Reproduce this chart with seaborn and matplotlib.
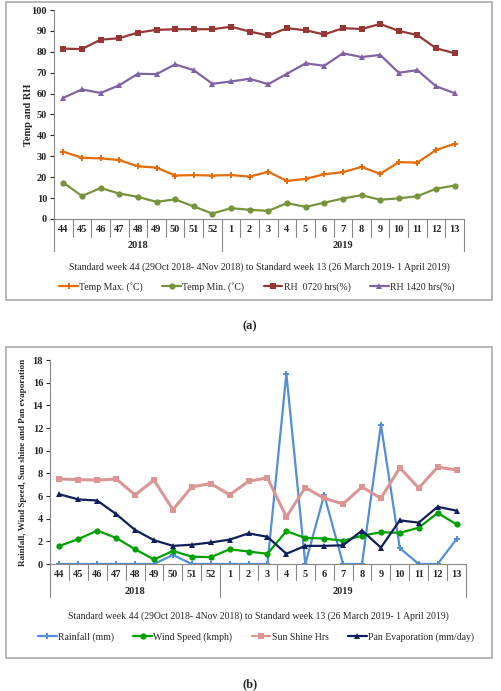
"""Weekly weather parameters, standard week 44 (2018) to week 13 (2019)."""
import matplotlib
matplotlib.use("Agg")
import matplotlib.pyplot as plt
import matplotlib.transforms as mtransforms
from matplotlib.patches import Rectangle
import pandas as pd
import seaborn as sns

weeks = ["44", "45", "46", "47", "48", "49", "50", "51", "52",
         "1", "2", "3", "4", "5", "6", "7", "8", "9", "10", "11", "12", "13"]
years = [("2018", 0, 8), ("2019", 9, 21)]

temp_max = [32.2, 29.3, 29.0, 28.2, 25.2, 24.6, 20.8, 21.0, 20.8, 21.0, 20.3,
            22.6, 18.2, 19.2, 21.4, 22.4, 24.9, 21.6, 27.2, 27.0, 33.0, 36.0]
temp_min = [17.4, 11.0, 14.8, 12.2, 10.6, 8.2, 9.4, 6.0, 2.6, 5.2, 4.4,
            3.9, 7.6, 5.8, 7.8, 9.8, 11.4, 9.2, 9.9, 10.9, 14.5, 16.0]
rh_0720 = [81.5, 81.3, 85.8, 86.5, 89.2, 90.5, 90.8, 90.8, 90.8, 92.0, 89.7,
           87.8, 91.3, 90.3, 88.3, 91.3, 90.9, 93.3, 90.0, 88.0, 81.7, 79.3]
rh_1420 = [58.0, 62.0, 60.3, 64.0, 69.5, 69.3, 74.0, 71.2, 64.7, 65.8, 67.1,
           64.5, 69.5, 74.5, 73.3, 79.3, 77.5, 78.5, 70.0, 71.2, 63.5, 60.2]

rainfall = [0, 0, 0, 0, 0, 0, 0.8, 0, 0, 0, 0,
            0, 16.8, 0, 6.1, 0, 0, 12.3, 1.4, 0, 0, 2.2]
wind = [1.6, 2.2, 2.95, 2.3, 1.3, 0.4, 1.15, 0.65, 0.6, 1.3, 1.1,
        0.9, 2.9, 2.3, 2.25, 2.05, 2.5, 2.8, 2.75, 3.2, 4.5, 3.5]
sunshine = [7.5, 7.45, 7.4, 7.5, 6.1, 7.4, 4.8, 6.8, 7.1, 6.1, 7.3,
            7.6, 4.15, 6.75, 5.8, 5.3, 6.8, 5.8, 8.5, 6.7, 8.55, 8.3]
pan_evap = [6.15, 5.7, 5.6, 4.4, 3.0, 2.1, 1.6, 1.7, 1.9, 2.15, 2.7,
            2.4, 0.9, 1.6, 1.6, 1.65, 2.95, 1.45, 3.85, 3.65, 5.05, 4.7]

XLABEL = ("Standard week 44 (29Oct 2018- 4Nov 2018) to Standard week 13 "
          "(26 March 2019- 1 April 2019)")

sns.set_theme(style="ticks")
plt.rcParams["font.family"] = ["Liberation Serif", "DejaVu Serif"]
plt.rcParams["axes.linewidth"] = 0.8

W, H = 502, 691
fig = plt.figure(figsize=(W / 100, H / 100), dpi=100)


def px_axes(left, top, right, bottom):
    return fig.add_axes([left / W, 1 - bottom / H, (right - left) / W, (bottom - top) / H])


def long_form(series):
    frames = []
    for name, vals in series.items():
        frames.append(pd.DataFrame({"pos": range(len(weeks)), "value": vals, "series": name}))
    return pd.concat(frames, ignore_index=True)


def category_axis(ax, week_px, year_px, year_text_px):
    h = ax.bbox.height
    trans = mtransforms.blended_transform_factory(ax.transData, ax.transAxes)
    ax.set_xlim(-0.5, len(weeks) - 0.5)
    ax.set_xticks(range(len(weeks)))
    ax.set_xticklabels(weeks, fontsize=7.5, fontweight="bold")
    ax.tick_params(axis="x", length=0, pad=4)
    for i in range(len(weeks) + 1):
        edge = i - 0.5
        is_year = i in (0, 9, len(weeks))
        depth = (year_px if is_year else week_px) / h
        ax.plot([edge, edge], [0, -depth], transform=trans, color="#888888",
                lw=0.8, clip_on=False)
    for label, a, b in years:
        ax.text((a + b) / 2, -year_text_px / h, label, transform=trans,
                ha="center", va="center", fontsize=7.5, fontweight="bold")


def style_y(ax, ylim, step, ylabel, label_size):
    ax.set_ylim(*ylim)
    ax.set_yticks(range(ylim[0], ylim[1] + 1, step))
    ax.tick_params(axis="y", labelsize=7.5, length=3, width=0.8, pad=2)
    for t in ax.get_yticklabels():
        t.set_fontweight("bold")
    ax.set_ylabel(ylabel, fontsize=label_size, fontweight="bold")
    sns.despine(ax=ax, top=True, right=True)
    ax.spines["left"].set_color("#888888")
    ax.spines["bottom"].set_color("#888888")
    ax.set_xlabel("")


def bottom_legend(ax, x_px, y_px):
    handles, labels = ax.get_legend_handles_labels()
    ax.legend(handles, labels, loc="center", bbox_to_anchor=(x_px / W, 1 - y_px / H),
              bbox_transform=fig.transFigure, ncol=4, frameon=False, fontsize=7,
              handlelength=1.9, columnspacing=2.0, handletextpad=0.15)


# panel borders
for top, bottom in [(2, 300), (347, 658)]:
    fig.patches.append(Rectangle((6 / W, 1 - bottom / H), (492 - 6) / W, (bottom - top) / H,
                                 transform=fig.transFigure, fill=False,
                                 edgecolor="#aaaaaa", lw=1.2))

# ---- (a) temperature and RH ----
ax_a = px_axes(54, 10, 464, 219)
df_a = long_form({"Temp Max. (˚C)": temp_max, "Temp Min. (˚C)": temp_min,
                  "RH  0720 hrs(%)": rh_0720, "RH 1420 hrs(%)": rh_1420})
pal_a = ["#E46C0A", "#77933C", "#953735", "#8064A2"]
sns.lineplot(data=df_a, x="pos", y="value", hue="series", style="series",
             palette=pal_a, markers=["P", "o", "s", "^"], dashes=False,
             markersize=4.5, markeredgewidth=0, linewidth=1.6, ax=ax_a)
style_y(ax_a, (0, 100), 10, "Temp and RH", 7.5)
ax_a.yaxis.set_label_coords(-0.05, 0.5)
category_axis(ax_a, 18, 32, 27)
ax_a.text(0.5, -48 / ax_a.bbox.height, XLABEL, transform=ax_a.transAxes,
          ha="center", va="center", fontsize=7)
bottom_legend(ax_a, 257, 287)
fig.text(250 / W, 1 - 326 / H, "(a)", ha="center", va="center",
         fontsize=9, fontweight="bold")

# ---- (b) rainfall, wind, sunshine, pan evaporation ----
ax_b = px_axes(50, 360, 466, 564)
df_b = long_form({"Rainfall (mm)": rainfall, "Wind Speed (kmph)": wind,
                  "Sun Shine Hrs": sunshine, "Pan Evaporation (mm/day)": pan_evap})
pal_b = ["#558ED5", "#00A000", "#D99694", "#0F1F5C"]
sns.lineplot(data=df_b, x="pos", y="value", hue="series", style="series",
             palette=pal_b, markers=["P", "o", "s", "^"], dashes=False,
             markersize=4.5, markeredgewidth=0, linewidth=1.6, ax=ax_b)
for line, lw in zip(ax_b.get_lines(), [1.6, 1.6, 2.2, 1.6]):
    line.set_linewidth(lw)
style_y(ax_b, (0, 18), 2, "Rainfall, Wind Speed, Sun shine and Pan evaporation", 6.6)
ax_b.yaxis.set_label_coords(-0.055, 0.5)
category_axis(ax_b, 16, 33, 27)
ax_b.text(0.5, -52 / ax_b.bbox.height, XLABEL, transform=ax_b.transAxes,
          ha="center", va="center", fontsize=7)
bottom_legend(ax_b, 256, 637)
fig.text(250 / W, 1 - 684 / H, "(b)", ha="center", va="center",
         fontsize=9, fontweight="bold")

fig.savefig("out.png", dpi=100)
